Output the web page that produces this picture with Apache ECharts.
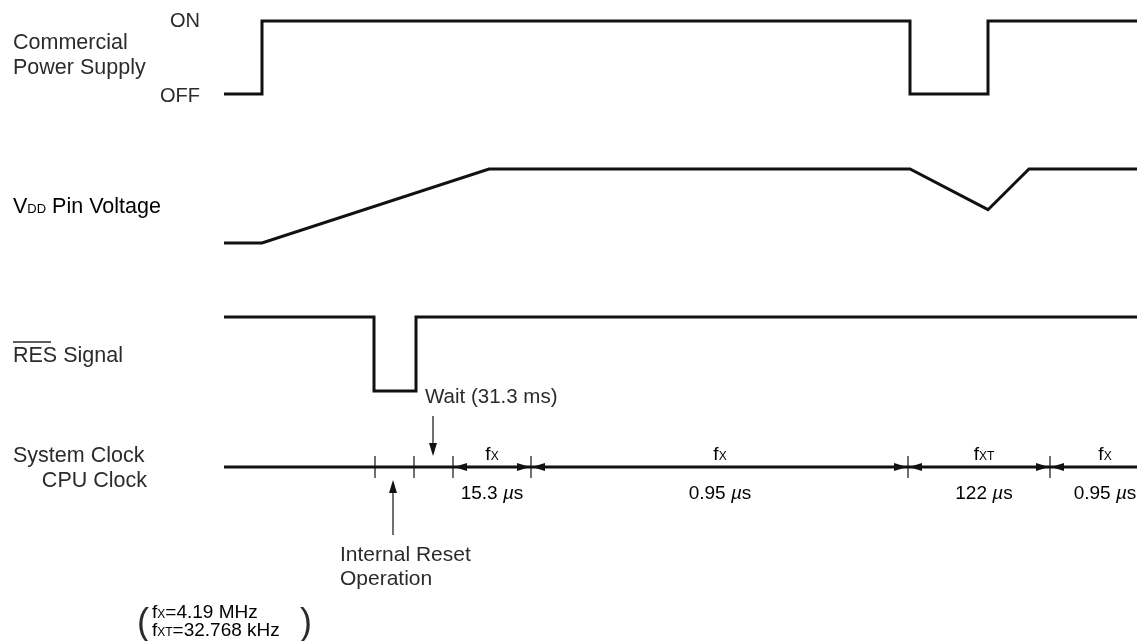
<!DOCTYPE html>
<html>
<head>
<meta charset="utf-8">
<script src="https://cdn.jsdelivr.net/npm/echarts@6/dist/echarts.min.js"></script>
<style>
  html, body { margin: 0; background: #fff; }
  #chart { width: 1138px; height: 641px; }
</style>
</head>
<body>
<div id="chart"></div>
<script>
// time runs in arbitrary units (0 = left end of the traces)
const timeSpan = [0, 913];

const powerTimes = [0, 38, 38, 686, 686, 764, 764, 913];
const powerLevels = [0, 0, 1, 1, 0, 0, 1, 1]; // 0 = OFF, 1 = ON

const vddTimes = [0, 38, 265, 686, 764, 805, 913];
const vddLevels = [0, 0, 1, 1, 0.45, 1, 1];

const resTimes = [0, 150, 150, 192, 192, 913];
const resLevels = [1, 1, 0, 0, 1, 1];

const clockTicks = [151, 190, 229, 307, 684, 826];
const clockSegments = [[229, 307], [307, 684], [684, 826], [826, 913]];
const segLabelTimes = [268, 496, 760, 881];
const segClock = ["X", "X", "XT", "X"];
const segPeriod = ["15.3", "0.95", "122", "0.95"];

const waitTime = 209;   // "Wait (31.3 ms)" arrow
const resetTime = 169;  // "Internal Reset Operation" arrow

const INK = "#111";
const TXT = "#2b2b2b";
const FONT = "Liberation Sans";
const LABEL = 21.5;

function pairs(xs, ys) {
  return xs.map((x, i) => [x, ys[i]]);
}

function head(tip, dir) {
  const L = 13, W = 4;
  const bx = tip[0] - dir[0] * L, by = tip[1] - dir[1] * L;
  const px = -dir[1] * W, py = dir[0] * W;
  return {
    type: "polygon",
    shape: { points: [tip, [bx + px, by + py], [bx - px, by - py]] },
    style: { fill: INK },
  };
}

function trace(data, idx) {
  return {
    type: "line",
    xAxisIndex: idx,
    yAxisIndex: idx,
    data: data,
    symbol: "none",
    clip: false,
    lineStyle: { color: INK, width: 3, join: "miter", cap: "butt" },
  };
}

function label(text, x, y, size, align) {
  return {
    type: "text", x: x, y: y,
    style: { text: text, fontFamily: FONT, fontSize: size, fill: TXT, align: align || "left", verticalAlign: "middle" },
  };
}

const subRich = {
  f: { fontFamily: FONT, fontSize: 19, color: TXT, verticalAlign: "bottom" },
  s: { fontFamily: FONT, fontSize: 12, color: TXT, verticalAlign: "bottom", padding: [0, 0, 2, 0] },
  n: { fontFamily: FONT, fontSize: 19, color: TXT, verticalAlign: "bottom" },
  mu: { fontFamily: FONT, fontSize: 19, fontStyle: "italic", color: TXT, verticalAlign: "bottom" },
};

const chart = echarts.init(document.getElementById("chart"));

const grids = [
  { left: 224, right: 1, top: 21, height: 73 },
  { left: 224, right: 1, top: 169, height: 74 },
  { left: 224, right: 1, top: 317, height: 74 },
  { left: 224, right: 1, top: 387, height: 160 },
];

const option = {
  animation: false,
  backgroundColor: "#fff",
  grid: grids,
  xAxis: grids.map((g, i) => ({
    type: "value", gridIndex: i, min: timeSpan[0], max: timeSpan[1], show: false,
  })),
  yAxis: [
    { type: "value", gridIndex: 0, min: 0, max: 1, show: false },
    { type: "value", gridIndex: 1, min: 0, max: 1, show: false },
    { type: "value", gridIndex: 2, min: 0, max: 1, show: false },
    { type: "value", gridIndex: 3, min: -8, max: 8, show: false },
  ],
  series: [
    trace(pairs(powerTimes, powerLevels), 0),
    trace(pairs(vddTimes, vddLevels), 1),
    trace(pairs(resTimes, resLevels), 2),
    trace([[timeSpan[0], 0], [timeSpan[1], 0]], 3),
    // tick marks on the clock line
    {
      type: "custom", xAxisIndex: 3, yAxisIndex: 3, clip: false,
      data: clockTicks.map((t) => [t]),
      encode: { x: 0 },
      renderItem(params, api) {
        const a = api.coord([api.value(0), 1.1]);
        const b = api.coord([api.value(0), -1.1]);
        return {
          type: "line",
          shape: { x1: a[0], y1: a[1], x2: b[0], y2: b[1] },
          style: { stroke: INK, lineWidth: 1.2 },
        };
      },
    },
    // arrowheads of the clock intervals
    {
      type: "custom", xAxisIndex: 3, yAxisIndex: 3, clip: false,
      data: clockSegments,
      encode: { x: [0, 1] },
      renderItem(params, api) {
        const a = api.coord([api.value(0), 0]);
        const b = api.coord([api.value(1), 0]);
        const kids = [head([a[0] + 1, a[1]], [-1, 0])];
        if (api.value(1) < timeSpan[1]) kids.push(head([b[0] - 1, b[1]], [1, 0]));
        return { type: "group", children: kids };
      },
    },
    // interval labels
    {
      type: "custom", xAxisIndex: 3, yAxisIndex: 3, clip: false,
      data: segLabelTimes.map((t, i) => [t, i]),
      encode: { x: 0 },
      renderItem(params, api) {
        const i = api.value(1);
        const top = api.coord([api.value(0), 1.2]);
        const bot = api.coord([api.value(0), -2.7]);
        return {
          type: "group",
          children: [
            {
              type: "text", x: top[0], y: top[1],
              style: { text: "{f|f}{s|" + segClock[i] + "}", rich: subRich, align: "center", verticalAlign: "middle" },
            },
            {
              type: "text", x: bot[0], y: bot[1],
              style: { text: "{n|" + segPeriod[i] + " }{mu|µ}{n|s}", rich: subRich, align: "center", verticalAlign: "middle" },
            },
          ],
        };
      },
    },
    // pointer arrows (wait / internal reset)
    {
      type: "custom", xAxisIndex: 3, yAxisIndex: 3, clip: false,
      data: [[waitTime, 5.1, 1.1], [resetTime, -6.8, -1.3]],
      encode: { x: 0, y: [1, 2] },
      renderItem(params, api) {
        const a = api.coord([api.value(0), api.value(1)]);
        const b = api.coord([api.value(0), api.value(2)]);
        const d = b[1] > a[1] ? 1 : -1;
        return {
          type: "group",
          children: [
            {
              type: "line",
              shape: { x1: a[0], y1: a[1], x2: b[0], y2: b[1] - d * 10 },
              style: { stroke: INK, lineWidth: 1.2 },
            },
            head(b, [0, d]),
          ],
        };
      },
    },
  ],
  graphic: [
    label("Commercial", 13, 43, LABEL),
    label("Power Supply", 13, 68, LABEL),
    label("ON", 200, 21, 20, "right"),
    label("OFF", 200, 96, 20, "right"),
    {
      type: "text", x: 13, y: 207,
      style: {
        text: "{v|V}{d|DD}{v| Pin Voltage}", verticalAlign: "middle",
        rich: {
          v: { fontFamily: FONT, fontSize: LABEL, color: TXT, verticalAlign: "bottom" },
          d: { fontFamily: FONT, fontSize: 13, color: TXT, verticalAlign: "bottom", padding: [0, 0, 2, 0] },
        },
      },
    },
    label("RES Signal", 13, 356, LABEL),
    { type: "line", shape: { x1: 13, y1: 342, x2: 51, y2: 342 }, style: { stroke: TXT, lineWidth: 1.3 } },
    label("System Clock", 13, 456, LABEL),
    label("CPU Clock", 147, 481, LABEL, "right"),
    label("Wait (31.3 ms)", 425, 397, 20.5),
    label("Internal Reset", 340, 555, 21),
    label("Operation", 340, 579, 21),
    { type: "text", x: 137, y: 624, style: { text: "(", fontFamily: FONT, fontSize: 36, fill: TXT, verticalAlign: "middle" } },
    { type: "text", x: 152, y: 613, style: { text: "{f|f}{s|X}{n|=4.19 MHz}", rich: subRich, verticalAlign: "middle" } },
    { type: "text", x: 152, y: 631, style: { text: "{f|f}{s|XT}{n|=32.768 kHz}", rich: subRich, verticalAlign: "middle" } },
    { type: "text", x: 300, y: 624, style: { text: ")", fontFamily: FONT, fontSize: 36, fill: TXT, verticalAlign: "middle" } },
  ],
};

chart.setOption(option);
</script>
</body>
</html>
